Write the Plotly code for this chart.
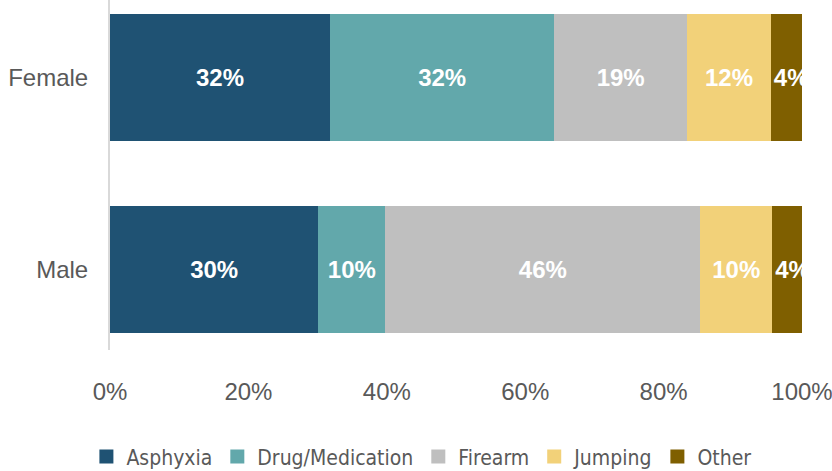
import plotly.graph_objects as go

categories = ["Male", "Female"]
methods = ["Asphyxia", "Drug/Medication", "Firearm", "Jumping", "Other"]
asphyxia = [30.1, 31.8]
drug = [9.7, 32.4]
firearm = [45.5, 19.2]
jumping = [10.4, 12.1]
other = [4.3, 4.5]
series = [asphyxia, drug, firearm, jumping, other]
colors = ["#1F5273", "#62A8AB", "#BFBFBF", "#F2D179", "#7F5F00"]
tick_vals = [0, 20, 40, 60, 80, 100]
tick_text = ["0%", "20%", "40%", "60%", "80%", "100%"]

fig = go.Figure()
for name, vals, col in zip(methods, series, colors):
    fig.add_trace(go.Bar(
        y=categories, x=vals, orientation="h", name=name,
        marker=dict(color=col, line=dict(width=0)),
        text=[f"{v:.0f}%" for v in vals],
        textposition="inside", textangle=0,
        insidetextanchor="start" if name == "Other" else "middle",
        constraintext="none",
        textfont=dict(family="Liberation Sans, Arial", size=24, color="white", weight="bold"),
        showlegend=False, cliponaxis=True, hoverinfo="skip",
    ))
    fig.add_trace(go.Scatter(
        x=[None], y=[None], mode="markers", name=name,
        marker=dict(symbol="square", size=14, color=col),
    ))

fig.update_layout(
    width=832, height=471,
    barmode="stack", bargap=0.34,
    plot_bgcolor="white", paper_bgcolor="white",
    margin=dict(l=110, r=30, t=0, b=121, autoexpand=False),
    font=dict(family="Liberation Sans, Arial", size=24, color="#595959"),
    xaxis=dict(range=[0, 100], tickvals=tick_vals, ticktext=tick_text, tickmode="array",
               showgrid=False, zeroline=False, showline=False, automargin=False,
               ticklabeloverflow="allow",
               ticklabelstandoff=25, tickfont=dict(size=24)),
    yaxis=dict(range=[-0.419, 1.404], showgrid=False, zeroline=False,
               showline=True, linecolor="#D9D9D9", linewidth=2, automargin=False,
               ticks="", ticklabelstandoff=15, tickfont=dict(size=24)),
    legend=dict(orientation="h", x=0.45, xanchor="center", y=-0.305, yanchor="middle",
                font=dict(family="DejaVu Sans Condensed, Liberation Sans", size=21, color="#595959"),
                itemwidth=30, traceorder="normal"),
)

fig.write_html("out.html", config={"displayModeBar": False},
               post_script="document.body.style.margin='0';")
